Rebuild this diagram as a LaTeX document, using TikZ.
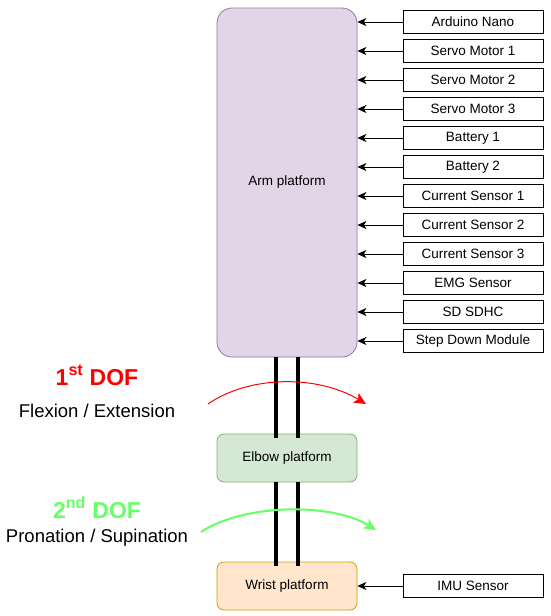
\documentclass[tikz,border=0pt]{standalone}
\usepackage{fontspec}
\setmainfont{Liberation Sans}
\usetikzlibrary{arrows.meta}
\def\partx{473}
\def\parttop{22}
\def\partdy{29}
\def\shaftdx{11}
\definecolor{armfill}{HTML}{E1D5E7}
\definecolor{armline}{HTML}{9673A6}
\definecolor{elbowfill}{HTML}{D5E8D4}
\definecolor{elbowline}{HTML}{82B366}
\definecolor{wristfill}{HTML}{FFE6CC}
\definecolor{wristline}{HTML}{D79B00}
\definecolor{dofred}{HTML}{FF0000}
\definecolor{dofgreen}{HTML}{66FF66}
\newcommand{\boxfont}{\fontsize{13.5}{16}\selectfont}

\begin{document}
\begin{tikzpicture}[x=1pt,y=-1pt,line width=0.8pt,
  platform/.style={draw,rounded corners=7pt,minimum width=140pt,minimum height=48pt,font=\boxfont,inner sep=0pt},
  partbox/.style={draw,black,minimum width=140pt,minimum height=23pt,font=\boxfont,inner sep=0pt},
  feed/.style={-{Stealth[length=9pt,width=8pt,inset=2.5pt]},line width=0.8pt},
  shaft/.style={line width=3.5pt},
  doftitle/.style={font=\fontsize{23}{27}\selectfont\bfseries,anchor=base},
  doftext/.style={font=\fontsize{18.5}{22}\selectfont,anchor=base}]
  \useasboundingbox[fill=white] (0,0) rectangle (550,616);
  % platforms
  \node[platform,rounded corners=15pt,minimum height=349pt,fill=armfill,draw=armline] (arm) at (287,182.5) {Arm platform};
  \node[platform,fill=elbowfill,draw=elbowline] (elbow) at (287,458) {Elbow platform};
  \node[platform,fill=wristfill,draw=wristline] (wrist) at (287,586) {Wrist platform};
  % parts feeding the arm platform
  \foreach \lbl [count=\n] in {Arduino Nano,Servo Motor 1,Servo Motor 2,Servo Motor 3,Battery 1,Battery 2,Current Sensor 1,Current Sensor 2,Current Sensor 3,EMG Sensor,SD SDHC,Step Down Module} {
    \node[partbox] (part\n) at (\partx,{\parttop+(\n-1)*\partdy}) {\lbl};
    \draw[feed] (part\n.west) -- (arm.east |- part\n.west);
  }
  \node[partbox] (imu) at (\partx,586) {IMU Sensor};
  \draw[feed] (imu.west) -- (wrist.east);
  % shafts
  \foreach \s in {-1,1} {
    \draw[shaft] ([xshift=\s*\shaftdx]arm.south) -- ([xshift=\s*\shaftdx,yshift=-4pt]elbow.north);
    \draw[shaft] ([xshift=\s*\shaftdx]elbow.south) -- ([xshift=\s*\shaftdx,yshift=-4pt]wrist.north);
  }
  % degrees of freedom
  \node[doftitle,dofred] (dof1) at (97,385) {1\textsuperscript{st} DOF};
  \node[doftext] (flex) at (97,417) {Flexion / Extension};
  \node[doftitle,dofgreen] (dof2) at (97,518) {2\textsuperscript{nd} DOF};
  \node[doftext] (pron) at (97,542) {Pronation / Supination};
  \coordinate (r1) at (208,404);
  \coordinate (r2) at (366,404);
  \coordinate (g1) at (201,532);
  \coordinate (g2) at (376,530);
  \draw[dofred,line width=1pt,-{Stealth[length=12pt,width=11pt,inset=3pt]}] (r1) .. controls (250,375) and (318,375) .. (r2);
  \draw[dofgreen,line width=2pt,-{Stealth[length=12pt,width=11pt,inset=3pt]}] (g1) .. controls (245,503) and (333,503) .. (g2);
\end{tikzpicture}
\end{document}
